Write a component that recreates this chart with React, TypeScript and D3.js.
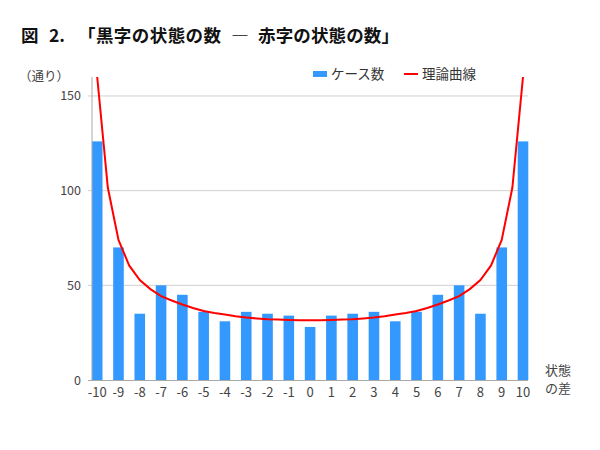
import React from "react";
import * as d3 from "d3";

const categories: number[] = [-10, -9, -8, -7, -6, -5, -4, -3, -2, -1, 0, 1, 2, 3, 4, 5, 6, 7, 8, 9, 10];
const caseCounts: number[] = [126, 70, 35, 50, 45, 36, 31, 36, 35, 34, 28, 34, 35, 36, 31, 36, 45, 50, 35, 70, 126];
const curveX: number[] = [-10, -9.5, -9, -8.5, -8, -7.5, -7, -6.5, -6, -5.5, -5, -4.5, -4, -3.5, -3, -2.5, -2, -1.5, -1, -0.5, 0,
  0.5, 1, 1.5, 2, 2.5, 3, 3.5, 4, 4.5, 5, 5.5, 6, 6.5, 7, 7.5, 8, 8.5, 9, 9.5, 10];
const curveY: number[] = [160, 101.5, 74, 60.5, 52.8, 48, 44.3, 42, 39.9, 38, 36.4, 35.4, 34.6, 33.7, 33, 32.5, 32.1, 31.9, 31.7, 31.6, 31.5,
  31.6, 31.7, 31.9, 32.1, 32.5, 33, 33.7, 34.6, 35.4, 36.4, 38, 39.9, 42, 44.3, 48, 52.8, 60.5, 74, 101.5, 160];
const yTicks: number[] = [0, 50, 100, 150];

const FONT = "'Noto Sans CJK JP', 'Noto Sans', sans-serif";

export default function App() {
  const W = 600, H = 450;
  const x = d3.scaleLinear().domain([-10, 10]).range([97.2, 523]);
  const y = d3.scaleLinear().domain([0, 160]).range([380, 77]);
  const barW = 10.6;
  const axisX = 92;
  const line = d3.line<number>().x((_, i) => x(curveX[i])).y((d) => y(d)).curve(d3.curveLinear);

  return (
    <svg width={W} height={H} style={{ position: "absolute", left: 0, top: 0, background: "#fff" }} fontFamily={FONT}>
      <defs>
        <clipPath id="plotClip">
          <rect x={80} y={y(160)} width={460} height={y(0) - y(160)} />
        </clipPath>
      </defs>
      <g fontSize={17.5} fontWeight="bold" fill="#111">
        <text x={21} y={42}>図</text>
        <text x={49} y={42}>2.</text>
        <text x={78} y={42} textLength={143} lengthAdjust="spacing">「黒字の状態の数</text>
        <text x={240} y={42} textAnchor="middle" fontWeight="normal">―</text>
        <text x={258} y={42} textLength={141} lengthAdjust="spacing">赤字の状態の数」</text>
      </g>

      {/* legend */}
      <rect x={313} y={71} width={14} height={6} fill="#3399ff" />
      <text x={331} y={79} fontSize={13.5} fill="#333">ケース数</text>
      <line x1={404} x2={418} y1={74} y2={74} stroke="#ff0000" strokeWidth={2} />
      <text x={422} y={79} fontSize={13.5} fill="#333">理論曲線</text>

      <text x={19} y={81} fontSize={12.5} fill="#444">（通り）</text>

      {/* grid */}
      {yTicks.filter((t) => t > 0).map((t) => (
        <line key={t} x1={88} x2={528} y1={y(t)} y2={y(t)} stroke="#d0d0d0" strokeWidth={1} />
      ))}
      {yTicks.map((t) => (
        <text key={"l" + t} x={81} y={y(t) + 4.5} fontSize={12.5} textAnchor="end" fill="#444">{t}</text>
      ))}

      {/* bars */}
      {categories.map((c, i) => (
        <rect key={c} x={x(c) - barW / 2} y={y(caseCounts[i])} width={barW} height={y(0) - y(caseCounts[i])} fill="#3399ff" />
      ))}

      {/* axes */}
      <line x1={axisX} x2={axisX} y1={y(160)} y2={380} stroke="#aaa" strokeWidth={1} />
      <line x1={88} x2={528} y1={380.5} y2={380.5} stroke="#aaa" strokeWidth={1} />

      {/* curve */}
      <path d={line(curveY) || ""} fill="none" stroke="#ff0000" strokeWidth={2} clipPath="url(#plotClip)" />

      {/* x labels */}
      {categories.map((c) => (
        <text key={"x" + c} x={x(c)} y={397} fontSize={13} textAnchor="middle" fill="#444">{c}</text>
      ))}
      <text x={545} y={375} fontSize={13} fill="#444">状態</text>
      <text x={545} y={393} fontSize={13} fill="#444">の差</text>
    </svg>
  );
}
